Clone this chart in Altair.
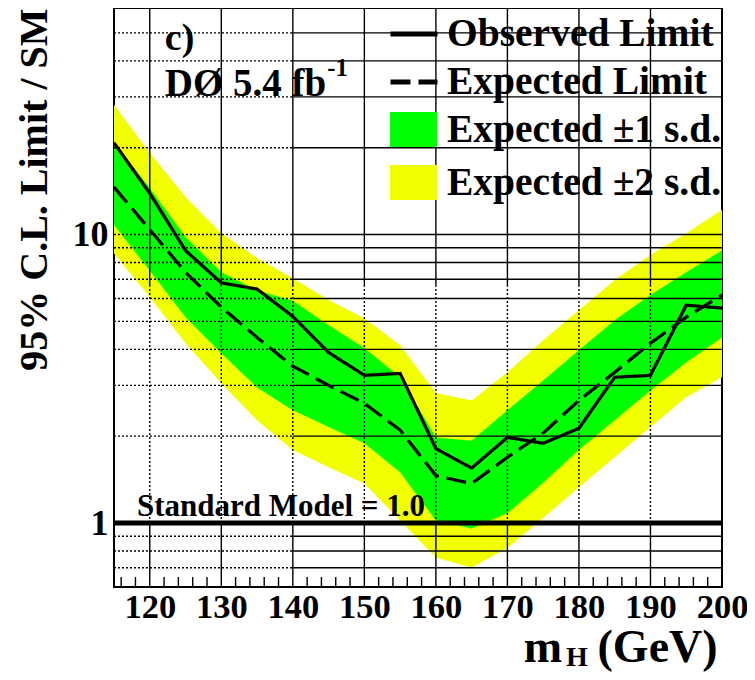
import altair as alt
import pandas as pd

# ---------------- data ----------------
mass = [115, 120, 125, 130, 135, 140, 145, 150, 155, 160, 165, 170, 175, 180, 185, 190, 195, 200]
observed = [20.8, 13.9, 8.8, 6.8, 6.47, 5.2, 3.9, 3.25, 3.3, 1.81, 1.55, 1.98, 1.89, 2.13, 3.2, 3.25, 5.69, 5.56]
expected = [14.6, 10.4, 7.4, 5.6, 4.4, 3.5, 3.0, 2.6, 2.1, 1.46, 1.37, 1.69, 2.05, 2.66, 3.33, 4.2, 5.17, 6.17]
plus1 = [20.9, 14.5, 9.8, 7.4, 6.4, 5.9, 4.85, 4.04, 3.2, 1.98, 1.93, 2.46, 3.12, 3.97, 5.05, 6.17, 7.4, 8.8]
minus1 = [10.8, 7.5, 5.17, 3.88, 2.95, 2.46, 2.15, 1.89, 1.5, 1.02, 0.957, 1.08, 1.38, 1.79, 2.27, 2.88, 3.6, 4.4]
plus2 = [28.2, 19.2, 13.5, 10.1, 8.3, 7.06, 5.93, 5.13, 4.13, 2.82, 2.66, 3.33, 4.3, 5.47, 6.95, 8.5, 10.1, 12.2]
minus2 = [8.6, 6.07, 4.2, 3.05, 2.27, 1.79, 1.56, 1.37, 1.02, 0.76, 0.70, 0.82, 1.04, 1.33, 1.69, 2.15, 2.73, 3.2]

x_ticks = [120, 130, 140, 150, 160, 170, 180, 190, 200]
x_minor = [116, 118, 122, 124, 126, 128, 132, 134, 136, 138, 142, 144, 146, 148, 152, 154, 156, 158,
           162, 164, 166, 168, 172, 174, 176, 178, 182, 184, 186, 188, 192, 194, 196, 198]
y_ticks = [1, 10]
y_grid = [0.7, 0.8, 0.9, 2, 3, 4, 5, 6, 7, 8, 9, 10, 20, 30, 40, 50]
x_grid = [120, 130, 140, 150, 160, 170, 180, 190]

line_names = ["Observed Limit", "Expected Limit"]
band_names = ["Expected \u00b11 s.d.", "Expected \u00b12 s.d."]

SM_value = 1.0
X_MIN, X_MAX = 115, 200
Y_MIN, Y_MAX = 0.6, 61

FONT = "Liberation Serif"
GREEN = "#00ff00"
YELLOW = "#f2ff00"

# ---------------- tables ----------------
lines_df = pd.concat([
    pd.DataFrame({"mass": mass, "value": observed, "series": line_names[0]}),
    pd.DataFrame({"mass": mass, "value": expected, "series": line_names[1]}),
])
bands_df = pd.concat([
    pd.DataFrame({"mass": mass, "lo": minus1, "hi": plus1, "band": band_names[0]}),
    pd.DataFrame({"mass": mass, "lo": minus2, "hi": plus2, "band": band_names[1]}),
])

# grid segments (solid / dotted pieces as in the reference rendering)
vgrid_rows = []
for m in x_grid:
    vgrid_rows += [
        {"x": m, "y": Y_MIN, "y2": 1.0, "dot": "solid"},
        {"x": m, "y": 1.0, "y2": 6.6, "dot": "dotted"},
        {"x": m, "y": 6.6, "y2": Y_MAX, "dot": "solid"},
    ]
vgrid_df = pd.DataFrame(vgrid_rows)
hgrid_rows = []
for v in y_grid:
    hgrid_rows += [
        {"y": v, "x": X_MIN, "x2": 140, "dot": "dotted"},
        {"y": v, "x": 140, "x2": X_MAX, "dot": "solid"},
    ]
hgrid_df = pd.DataFrame(hgrid_rows)
minor_df = pd.DataFrame({"x": x_minor, "y": Y_MIN, "y2": Y_MIN * 1.083})

# ---------------- scales / axes ----------------
xs = alt.Scale(domain=[X_MIN, X_MAX], nice=False, zero=False)
ys = alt.Scale(type="log", domain=[Y_MIN, Y_MAX], nice=False)
xaxis = alt.Axis(values=x_ticks, title=None, grid=False, tickSize=0, domain=False,
                 labelPadding=3, labelFontSize=34.5, labelFont=FONT, labelFontWeight="bold",
                 labelColor="black", labelFlush=False, labelOverlap=False)
yaxis = alt.Axis(values=y_ticks, format="d", title="95% C.L. Limit / SM", grid=False, tickSize=0,
                 domain=False, labelPadding=6, labelFontSize=36, labelFont=FONT,
                 labelFontWeight="bold", labelColor="black", labelFlush=False,
                 titleFontSize=40, titleFont=FONT, titleFontWeight="bold", titleColor="black",
                 titlePadding=18, titleAnchor="end")


def X(f):
    return alt.X(f, type="quantitative", scale=xs, axis=xaxis)


def Y(f):
    return alt.Y(f, type="quantitative", scale=ys, axis=yaxis)


dot_scale = alt.Scale(domain=["solid", "dotted"], range=[[1, 0], [2, 2]])

bands_base = alt.Chart(bands_df)
fill_enc = alt.Fill("band:N", scale=alt.Scale(domain=band_names, range=[GREEN, YELLOW]),
                    legend=alt.Legend(orient="none", legendX=276, legendY=98, title=None,
                                      symbolType="M-1,-0.745H1V0.745H-1Z", symbolSize=2209,
                                      symbolStrokeWidth=0, symbolOpacity=1,
                                      labelFont=FONT, labelFontSize=39.5, labelFontWeight="bold",
                                      labelColor="black", labelOffset=10, rowPadding=10,
                                      padding=0, labelLimit=400))
yellow = bands_base.transform_filter(alt.datum.band == band_names[1]).mark_area(opacity=1).encode(
    x=X("mass"), y=Y("lo"), y2="hi", fill=fill_enc)
green = bands_base.transform_filter(alt.datum.band == band_names[0]).mark_area(opacity=1).encode(
    x=X("mass"), y=Y("lo"), y2="hi", fill=fill_enc)

vgrid = alt.Chart(vgrid_df).mark_rule(color="black", strokeWidth=1.4).encode(
    x=X("x"), y=Y("y"), y2="y2",
    strokeDash=alt.StrokeDash("dot:N", scale=dot_scale, legend=None))
hgrid = alt.Chart(hgrid_df).mark_rule(color="black", strokeWidth=1.4).encode(
    x=X("x"), x2="x2", y=Y("y"),
    strokeDash=alt.StrokeDash("dot:N", scale=dot_scale, legend=None))
minor = alt.Chart(minor_df).mark_rule(color="black", strokeWidth=1.4).encode(
    x=X("x"), y=Y("y"), y2="y2")

sm_line = alt.Chart(pd.DataFrame({"y": [SM_value]})).mark_rule(color="black", strokeWidth=5).encode(
    y=Y("y"))

lines = alt.Chart(lines_df).mark_line(color="black", strokeWidth=3.2).encode(
    x=X("mass"), y=Y("value"),
    detail="series:N",
    strokeDash=alt.StrokeDash("series:N",
                              scale=alt.Scale(domain=line_names, range=[[1, 0], [20, 8]]),
                              legend=alt.Legend(orient="none", legendX=274, legendY=0, title=None,
                                                symbolType="stroke", symbolSize=2209,
                                                symbolStrokeColor="black", symbolStrokeWidth=5,
                                                labelFont=FONT, labelFontSize=39.5,
                                                labelFontWeight="bold", labelColor="black",
                                                labelOffset=7, rowPadding=2, padding=0,
                                                labelLimit=400)))

# ---------------- annotations ----------------
def text_layer(txt, x, y, size, align="left", baseline="alphabetic"):
    return alt.Chart(pd.DataFrame({"x": [x], "y": [y], "t": [txt]})).mark_text(
        font=FONT, fontWeight="bold", fontSize=size, align=align, baseline=baseline,
        color="black").encode(x=X("x"), y=Y("y"), text="t:N")


annots = [
    text_layer("c)", 122.1, 43.7, 38),
    text_layer("D\u00d8 5.4 fb", 122.1, 30.3, 39),
    text_layer("-1", 144.8, 35.5, 25),
    text_layer("Standard Model = 1.0", 118.2, 1.06, 31),
    text_layer("m", 172.3, 0.3305, 46),
    text_layer("H", 178.2, 0.3200, 28),
    text_layer("(GeV)", 182.6, 0.3305, 46),
]

chart = alt.layer(yellow, green, vgrid, hgrid, minor, sm_line, lines, *annots).properties(
    width=608, height=579,
    padding={"left": 106, "top": 0, "right": 25, "bottom": 85},
    autosize=alt.AutoSizeParams(type="none"),
    background="white",
).resolve_scale(strokeDash="independent").configure_view(
    stroke="black", strokeWidth=2
)

chart.save("out.html", embed_options={"renderer": "svg", "actions": False})
